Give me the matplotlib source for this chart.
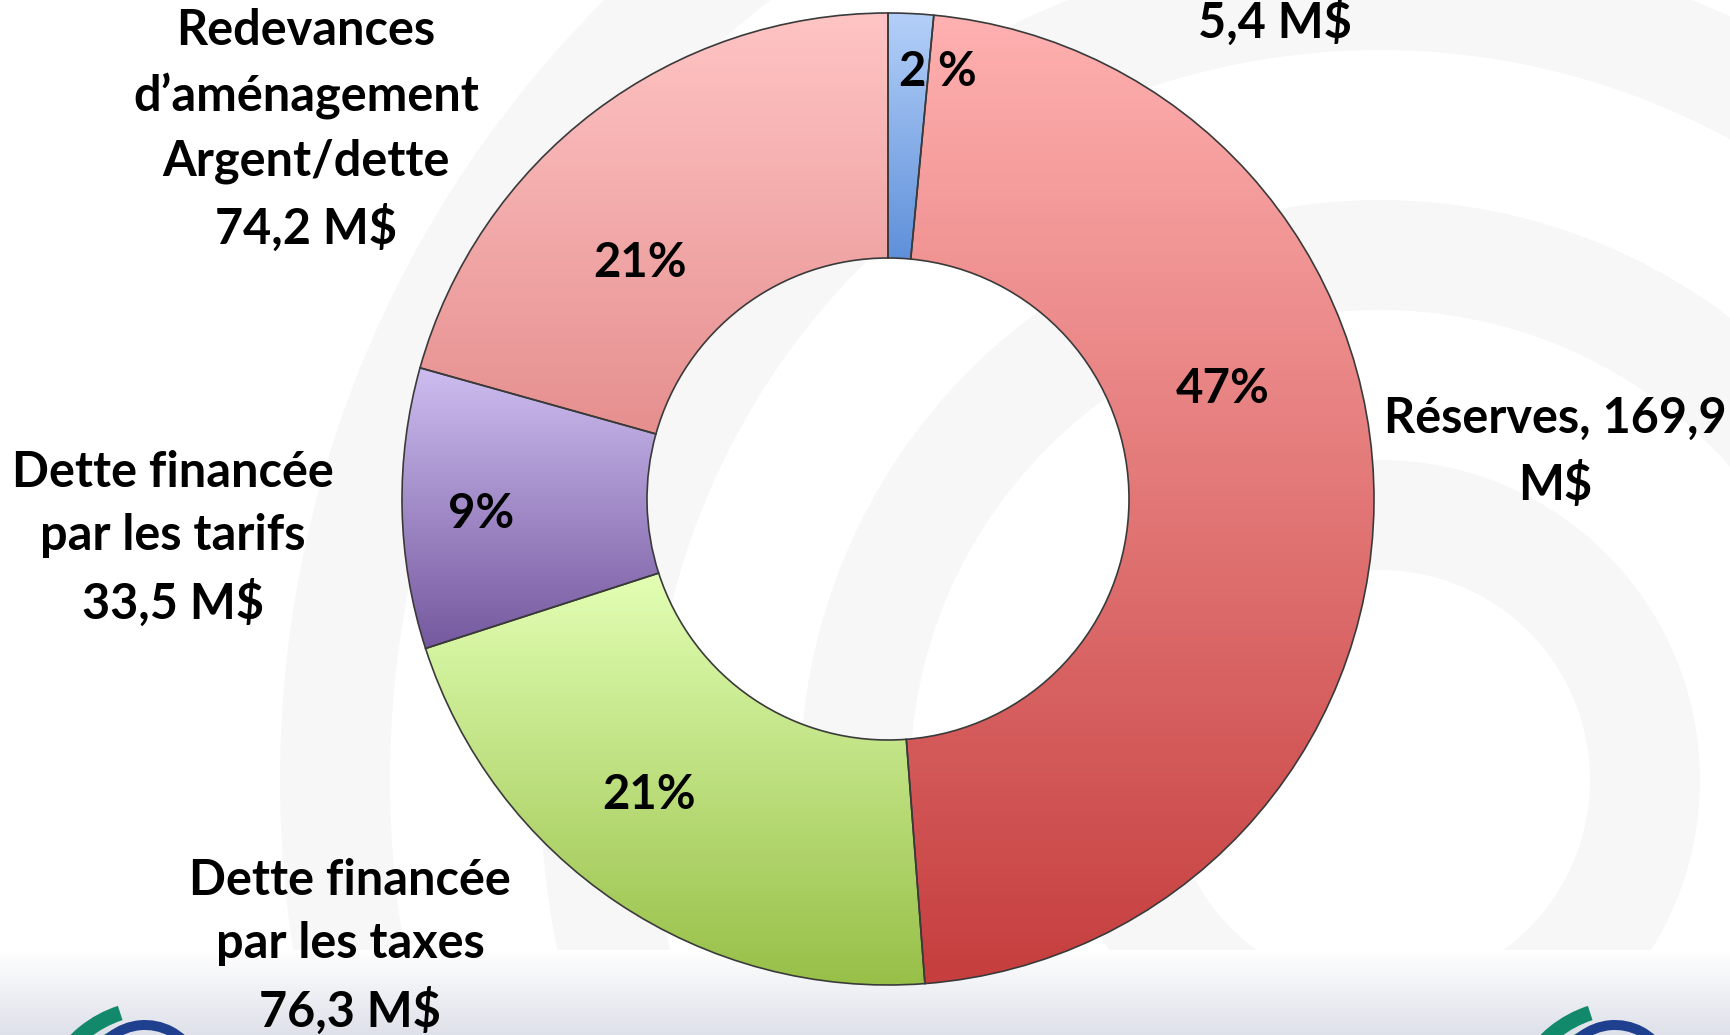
import numpy as np
import matplotlib
matplotlib.use("Agg")
import matplotlib.pyplot as plt
from matplotlib.colors import to_rgb, LinearSegmentedColormap
from matplotlib.patches import Wedge

plt.rcParams["font.family"] = ["Lato", "DejaVu Sans"]

# slices, clockwise from 12 o'clock
categories = [
    "5,4 M$",
    "Réserves, 169,9\nM$",
    "Dette financée\npar les taxes\n76,3 M$",
    "Dette financée\npar les tarifs\n33,5 M$",
    "Redevances\nd’aménagement\nArgent/dette\n74,2 M$",
]
values = [5.4, 169.9, 76.3, 33.5, 74.2]
pct_labels = ["2 %", "47%", "21%", "9%", "21%"]
top_colors = ["#b4d0f8", "#ffb0b0", "#e2ffb4", "#cdbdf0", "#ffc4c4"]
bottom_colors = ["#5f90da", "#c63e3e", "#98bf48", "#76599f", "#e68f8f"]

W, H = 1731, 1035
fig = plt.figure(figsize=(W / 100, H / 100), dpi=100)
ax = fig.add_axes([0, 0, 1, 1])

# background: faint grey rings and bottom band
for r in [260, 520, 780, 1040]:
    ax.add_patch(Wedge((1380, H - 780), r + 60, 0, 360, width=110,
                       facecolor="#d8d8d8", edgecolor="none", alpha=0.2, zorder=0))
band = np.linspace(0, 1, 64).reshape(-1, 1)
ax.imshow(band, cmap=LinearSegmentedColormap.from_list("band", ["#ffffff", "#dfe1ea"]),
          extent=(0, W, 0, H - 950), origin="upper", aspect="auto", zorder=0.5)

wedges, _ = ax.pie(values, radius=486, center=(888, H - 499), startangle=90,
                   counterclock=False,
                   wedgeprops=dict(width=245, edgecolor="#3a3a3a", linewidth=1.2,
                                   facecolor="none", zorder=3))

# vertical gradient per slice, clipped to the wedge
for w, c0, c1 in zip(wedges, top_colors, bottom_colors):
    bb = w.get_path().get_extents()
    t = np.linspace(0, 1, 128)[:, None]
    grad = (1 - t)[..., None] * np.array(to_rgb(c0)) + t[..., None] * np.array(to_rgb(c1))
    grad = np.repeat(grad, 2, axis=1)
    im = ax.imshow(grad, extent=(bb.x0, bb.x1, bb.y0, bb.y1), origin="upper",
                   aspect="auto", zorder=2)
    im.set_clip_path(w)

# percentage labels inside the ring
pct_pos = [(938, 72), (1223, 389), (649, 795), (481, 514), (640, 263)]
for txt, (x, y) in zip(pct_labels, pct_pos):
    ax.text(x, H - y, txt, ha="center", va="center", fontsize=34,
            fontweight="bold", color="black", zorder=5)

# category labels around the ring
cat_pos = [(1275, 22), (1555, 452), (350, 946), (173, 538), (306, 130)]
for txt, (x, y) in zip(categories, cat_pos):
    ax.text(x, H - y, txt, ha="center", va="center", fontsize=35,
            fontweight="bold", color="black", linespacing=1.5,
            multialignment="center", zorder=5)

# logo hints at the bottom corners
for lx in [35, 1505]:
    for k, (rr, a0, a1) in enumerate([(120, 108, 150), (95, 112, 148)]):
        ax.add_patch(Wedge((lx + 120, H - 1120 + k * 5), rr, a0, a1, width=15,
                           facecolor="#13896b", edgecolor="none", zorder=1))
    ax.add_patch(Wedge((lx + 110, H - 1080), 60, 30, 160, width=10,
                       facecolor="#1f3f8f", edgecolor="none", zorder=1))

ax.set_xlim(0, W)
ax.set_ylim(0, H)
ax.set_aspect("auto")
ax.axis("off")

fig.savefig("out.png", dpi=100)
